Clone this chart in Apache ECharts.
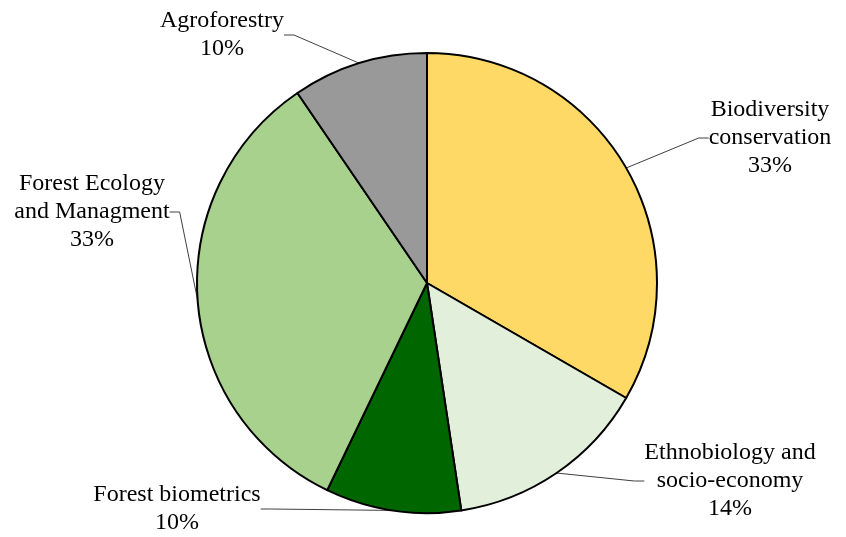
<!DOCTYPE html>
<html>
<head>
<meta charset="utf-8">
<script src="https://cdn.jsdelivr.net/npm/echarts@6/dist/echarts.min.js"></script>
<style>html,body{margin:0;padding:0;background:#fff}#c{width:846px;height:537px}</style>
</head>
<body>
<div id="c"></div>
<script>
const categories = ["Biodiversity\nconservation", "Ethnobiology and\nsocio-economy", "Forest biometrics", "Forest Ecology\nand Managment", "Agroforestry"];
const counts = [7, 3, 2, 7, 2];
const colors = ["#FFD966", "#E2EFDA", "#006600", "#A9D18E", "#999999"];
const labelPos = [[770, 138], [730, 481], [177, 509], [92, 212], [222, 35]];

const chart = echarts.init(document.getElementById('c'), null, {renderer: 'canvas'});
chart.setOption({
  animation: false,
  backgroundColor: '#ffffff',
  series: [{
    type: 'pie',
    center: [427, 283],
    radius: [0, 230],
    startAngle: 90,
    clockwise: true,
    percentPrecision: 0,
    data: categories.map((n, i) => ({name: n, value: counts[i], itemStyle: {color: colors[i]}})),
    itemStyle: {borderColor: '#000', borderWidth: 2},
    emphasis: {disabled: true},
    label: {
      show: true,
      position: 'outside',
      formatter: p => p.name + '\n' + p.percent + '%',
      fontFamily: 'Liberation Serif',
      fontSize: 24,
      lineHeight: 28,
      color: '#000',
      align: 'center'
    },
    labelLine: {show: true, length: 15, length2: 10, lineStyle: {color: '#404040', width: 1}},
    labelLayout: function (params) {
      const p = labelPos[params.dataIndex];
      return {x: p[0], y: p[1], align: 'center', verticalAlign: 'middle'};
    }
  }]
});
</script>
</body>
</html>
